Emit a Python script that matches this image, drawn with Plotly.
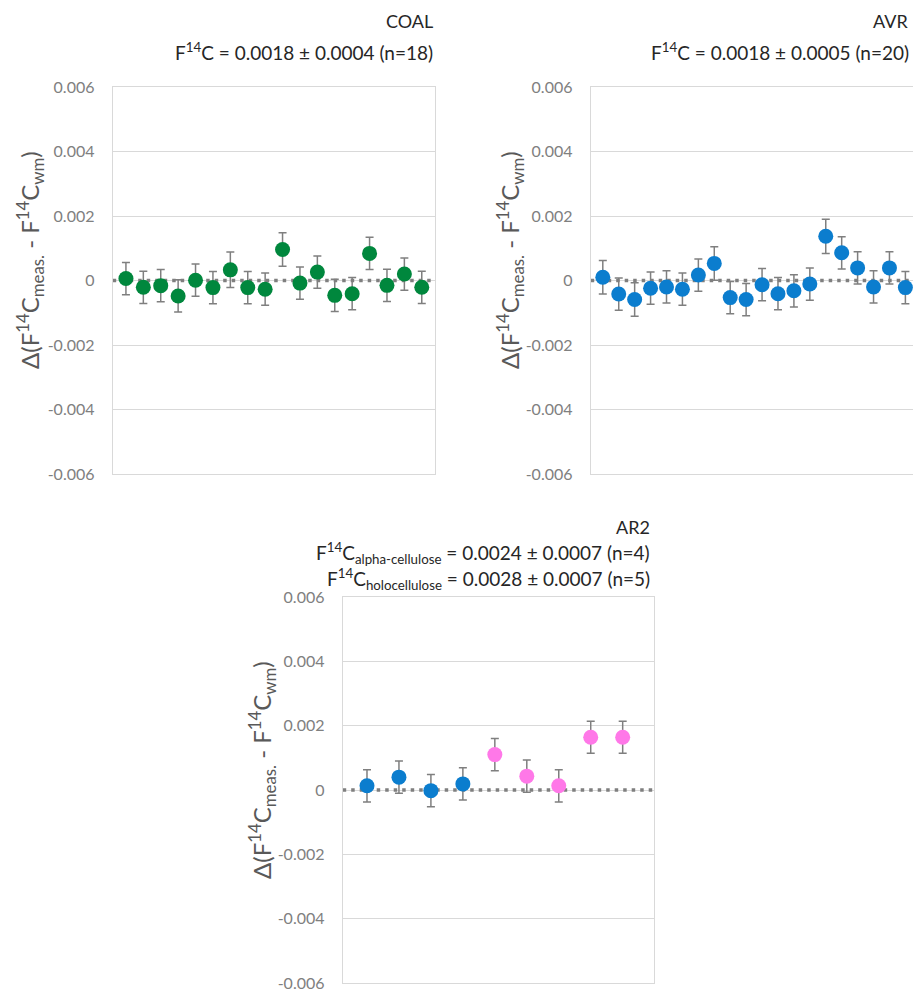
import plotly.graph_objects as go

# ---------------- data ----------------
coal_x = list(range(1, 19))
coal_y = [0.00006, -0.00021, -0.00016, -0.00048, 0.00001, -0.00022, 0.00033, -0.00022, -0.00027,
          0.00096, -0.00008, 0.00026, -0.00046, -0.00041, 0.00084, -0.00015, 0.00020, -0.00021]
coal_err = [0.0005, 0.0005, 0.0005, 0.0005, 0.0005, 0.0005, 0.00055, 0.0005, 0.0005,
            0.00052, 0.0005, 0.0005, 0.0005, 0.0005, 0.0005, 0.0005, 0.0005, 0.0005]

avr_x = list(range(1, 21))
avr_y = [0.00010, -0.00042, -0.00059, -0.00024, -0.00020, -0.00027, 0.00017, 0.00053, -0.00053, -0.00059,
         -0.00013, -0.00041, -0.00032, -0.00011, 0.00137, 0.00086, 0.00039, -0.00020, 0.00039, -0.00022]
avr_err = [0.00052, 0.0005, 0.00052, 0.0005, 0.0005, 0.0005, 0.0005, 0.00052, 0.0005, 0.0005,
           0.0005, 0.0005, 0.0005, 0.0005, 0.00053, 0.0005, 0.0005, 0.0005, 0.0005, 0.0005]

ar2_alpha_x = [1, 2, 3, 4]
ar2_alpha_y = [0.00013, 0.00040, -0.00002, 0.00019]
ar2_alpha_err = [0.0005, 0.0005, 0.0005, 0.0005]

ar2_holo_x = [5, 6, 7, 8, 9]
ar2_holo_y = [0.00110, 0.00043, 0.00013, 0.00164, 0.00164]
ar2_holo_err = [0.0005, 0.0005, 0.0005, 0.0005, 0.0005]

y_ticks = [-0.006, -0.004, -0.002, 0, 0.002, 0.004, 0.006]
y_ticktext = ["-0.006", "-0.004", "-0.002", "0", "0.002", "0.004", "0.006"]
reference_level = 0.0

GREEN = "#00873D"
BLUE = "#0B7DCE"
PINK = "#FF78E8"
ERR = "#7F7F7F"
FONT = "Lato"

W, H = 913, 992

coal_range = [0.24, 18.76]
avr_range = [0.24, 1 + (913 - 603.3) / 15.9]
ar2_range = [0.24, 9.98]

fig = go.Figure()


def ref_line(rng, xa, ya):
    fig.add_trace(go.Scatter(
        x=rng, y=[reference_level, reference_level], mode="lines",
        line=dict(color="#7F7F7F", width=3.5, dash="3.5px,5px"),
        xaxis=xa, yaxis=ya, showlegend=False, hoverinfo="skip", cliponaxis=True))


def add(x, y, err, color, xa, ya):
    fig.add_trace(go.Scatter(
        x=x, y=y, mode="markers",
        marker=dict(size=15, color=color),
        error_y=dict(type="data", array=err, color=ERR, thickness=1.5, width=4),
        xaxis=xa, yaxis=ya, showlegend=False, hoverinfo="skip"))


ref_line(coal_range, "x", "y")
ref_line(avr_range, "x2", "y2")
ref_line(ar2_range, "x3", "y3")

add(coal_x, coal_y, coal_err, GREEN, "x", "y")
add(avr_x, avr_y, avr_err, BLUE, "x2", "y2")
add(ar2_alpha_x, ar2_alpha_y, ar2_alpha_err, BLUE, "x3", "y3")
add(ar2_holo_x, ar2_holo_y, ar2_holo_err, PINK, "x3", "y3")


def px_x(p):
    return p / W


def px_y(p):
    return 1 - p / H


def yax(domain, anchor, mirror=True):
    return dict(domain=domain, anchor=anchor, range=[-0.006, 0.006],
                tickvals=y_ticks, ticktext=y_ticktext,
                tickfont=dict(family=FONT, size=16, color="#808080"),
                showgrid=True, gridcolor="#D9D9D9", gridwidth=1,
                zeroline=False, showline=True, linecolor="#D9D9D9", linewidth=1,
                mirror=mirror, ticks="", ticklabelstandoff=14, automargin=False)


def xax(domain, anchor, rng):
    return dict(domain=domain, anchor=anchor, range=rng, showticklabels=False,
                showgrid=False, zeroline=False, showline=True, linecolor="#D9D9D9",
                linewidth=1, mirror=True, ticks="", automargin=False)


top_dom = [px_y(474), px_y(87)]
bot_dom = [px_y(983), px_y(597)]

fig.update_layout(
    width=W, height=H,
    margin=dict(l=0, r=0, t=0, b=0, pad=0, autoexpand=False),
    paper_bgcolor="white", plot_bgcolor="white",
    font=dict(family=FONT),
    showlegend=False,
    xaxis=xax([px_x(112.7), px_x(435)], "y", coal_range),
    yaxis=yax(top_dom, "x"),
    xaxis2=xax([px_x(590.7), 1.0], "y2", avr_range),
    yaxis2=yax(top_dom, "x2", mirror=False),
    xaxis3=xax([px_x(342.7), px_x(654)], "y3", ar2_range),
    yaxis3=yax(bot_dom, "x3"),
)

ytitle = "Δ(F<sup>14</sup>C<sub>meas.</sub> - F<sup>14</sup>C<sub>wm</sub>)"
for xp, yp in [(30, 260), (510, 260), (262, 770)]:
    fig.add_annotation(text=ytitle, x=px_x(xp), y=px_y(yp), xref="paper", yref="paper",
                       textangle=-90, showarrow=False, xanchor="center", yanchor="middle",
                       font=dict(family=FONT, size=24, color="#595959"))

TC = "#262626"


def title(text, xr, yc, size=18):
    fig.add_annotation(text=text, x=px_x(xr), y=px_y(yc), xref="paper", yref="paper",
                       showarrow=False, xanchor="right", yanchor="middle",
                       font=dict(family=FONT, size=size, color=TC))


title("COAL", 435, 21)
title("F<sup>14</sup>C = 0.0018 ± 0.0004 (n=18)", 435, 52, 19)
title("AVR", 910, 21)
title("F<sup>14</sup>C = 0.0018 ± 0.0005 (n=20)", 911, 52, 19)
title("AR2", 652, 527)
title("F<sup>14</sup>C<sub>alpha-cellulose</sub> = 0.0024 ± 0.0007 (n=4)", 652, 553, 19)
title("F<sup>14</sup>C<sub>holocellulose</sub> = 0.0028 ± 0.0007 (n=5)", 652, 579, 19)

fig.write_html(
    "out.html",
    config={"responsive": False, "displayModeBar": False},
    post_script="document.body.style.margin='0';document.body.style.overflow='hidden';",
)
